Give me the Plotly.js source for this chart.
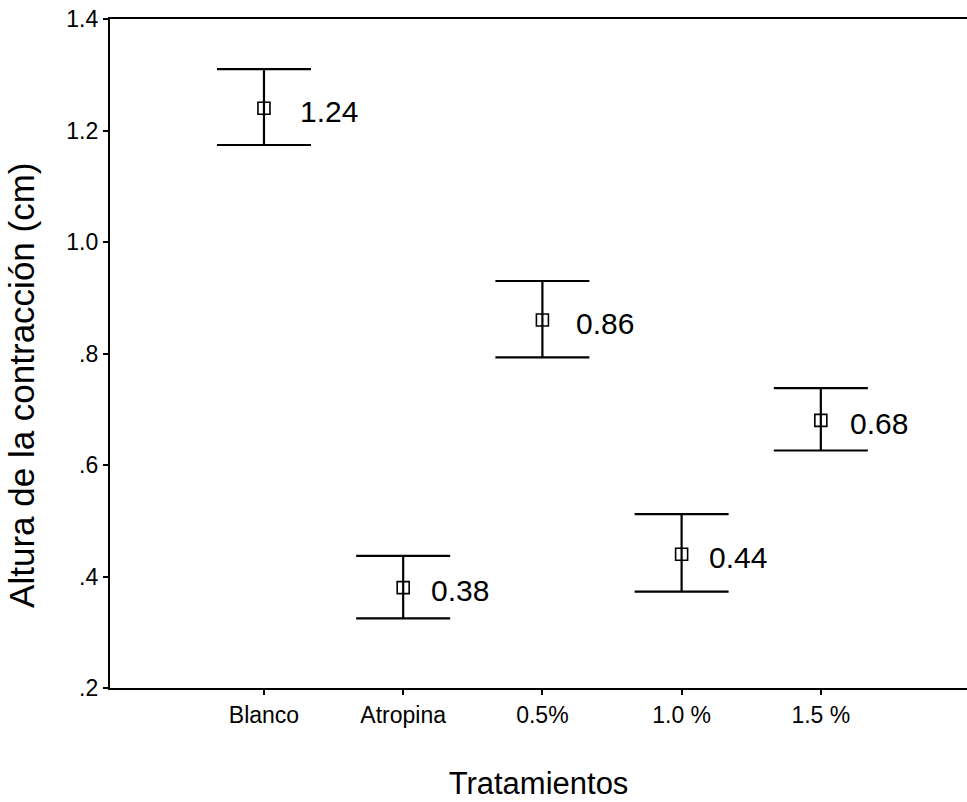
<!DOCTYPE html>
<html>
<head>
<meta charset="utf-8">
<script src="https://cdn.plot.ly/plotly-3.0.1.min.js"></script>
<style>html,body{margin:0;padding:0;background:#fff;}#chart{width:967px;height:802px;}</style>
</head>
<body>
<div id="chart"></div>
<script>
const categories = ["Blanco", "Atropina", "0.5%", "1.0 %", "1.5 %"];
const means = [1.24, 0.38, 0.86, 0.44, 0.68];
const upper = [1.310, 0.437, 0.930, 0.512, 0.738];
const lower = [1.174, 0.325, 0.793, 0.373, 0.626];
const labels = ["1.24", "0.38", "0.86", "0.44", "0.68"];
const yTickVals = [0.2, 0.4, 0.6, 0.8, 1.0, 1.2, 1.4];
const yTickText = [".2", ".4", ".6", ".8", "1.0", "1.2", "1.4"];

const xIdx = categories.map((c, i) => i);
const errPlus = upper.map((u, i) => u - means[i]);
const errMinus = lower.map((l, i) => means[i] - l);
const FONT = "Liberation Sans, Arial, sans-serif";
const labelShift = [34, 26, 32, 25, 27];

const trace = {
  type: "scatter",
  mode: "markers",
  x: xIdx,
  y: means,
  marker: {symbol: "square-open", size: 12, color: "#000", line: {width: 1.6, color: "#000"}},
  error_y: {type: "data", symmetric: false, array: errPlus, arrayminus: errMinus,
            color: "#000", thickness: 2.2, width: 47},
  hoverinfo: "skip",
  showlegend: false
};

const annotations = labels.map((t, i) => ({
  x: xIdx[i], y: means[i], xref: "x", yref: "y",
  text: t, showarrow: false, xanchor: "left", yanchor: "middle",
  xshift: labelShift[i], yshift: -3,
  font: {family: FONT, size: 30, color: "#000"}
}));
annotations.push({
  x: -0.1027, y: 0.453, xref: "paper", yref: "paper",
  text: "Altura de la contracción (cm)", showarrow: false, textangle: -90,
  xanchor: "center", yanchor: "middle",
  font: {family: FONT, size: 35, color: "#000"}
});

const layout = {
  width: 967, height: 802,
  margin: {l: 110, r: 0, t: 19, b: 114},
  paper_bgcolor: "#fff", plot_bgcolor: "#fff",
  font: {family: FONT, color: "#000"},
  xaxis: {
    range: [-1.106, 5.05],
    tickvals: xIdx, ticktext: categories,
    showgrid: false, zeroline: false,
    showline: true, linecolor: "#000", linewidth: 2.2, mirror: true,
    ticks: "outside", ticklen: 5, tickwidth: 2, tickcolor: "#000",
    tickfont: {family: FONT, size: 23, color: "#000"},
    title: {text: "Tratamientos", font: {family: FONT, size: 31, color: "#000"}, standoff: 46}
  },
  yaxis: {
    range: [0.2, 1.4],
    tickvals: yTickVals, ticktext: yTickText,
    showgrid: false, zeroline: false,
    showline: true, linecolor: "#000", linewidth: 2.2, mirror: false,
    ticks: "outside", ticklen: 5, tickwidth: 2, tickcolor: "#000",
    tickfont: {family: FONT, size: 23, color: "#000"}
  },
  annotations: annotations
};

Plotly.newPlot("chart", [trace], layout, {displayModeBar: false, staticPlot: true});
</script>
</body>
</html>
